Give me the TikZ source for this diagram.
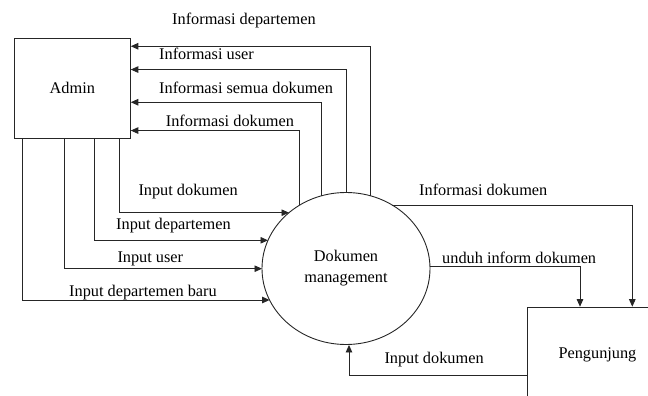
\documentclass[tikz,border=0pt]{standalone}
\usepackage{fontspec}
\setmainfont{Liberation Serif}
\usetikzlibrary{shapes.geometric,arrows.meta}
\begin{document}
\begin{tikzpicture}[x=1pt,y=-1pt,
  line/.style={draw=black!85,line width=0.9pt},
  arr/.style={line,-{Triangle[length=7.5pt,width=6.5pt]}},
  lbl/.style={anchor=base west,inner sep=0pt,font=\fontsize{16.3}{19}\selectfont},
  box/.style={line,rectangle,inner sep=0pt,font=\fontsize{16.3}{19}\selectfont}]
\useasboundingbox (0,0) rectangle (648,396);
% nodes
\node[box,minimum width=116pt,minimum height=100pt] (admin) at (72.3,88) {Admin};
\node[line,ellipse,minimum width=168pt,minimum height=152pt,inner sep=0pt,
      align=center,font=\fontsize{16.3}{21}\selectfont] (dm) at (346,268.5) {Dokumen\\management};
\begin{scope}
  \clip (0,0) rectangle (648,396);
  \node[box,anchor=north west,minimum width=200pt,minimum height=150pt] (peng) at (527.3,306.7) {};
\end{scope}
\node[lbl] (penglbl) at (558.3,358.5) {Pengunjung};
% boundary points on the ellipse
\coordinate (o1) at (370,195.7);
\coordinate (o2) at (346.7,192.6);
\coordinate (o3) at (321.7,195.7);
\coordinate (o4) at (299.3,205.3);
\coordinate (i1) at (289,212.7);
\coordinate (i2) at (268,240.3);
\coordinate (i3) at (262,268.7);
\coordinate (i4) at (269.6,300);
\coordinate (r1) at (392,205);
\coordinate (r2) at (430,266);
% outputs to Admin
\draw[arr] (o1) |- ([yshift=-8.7pt]admin.north east);
\draw[arr] (o2) |- ([yshift=-32pt]admin.north east);
\draw[arr] (o3) |- ([yshift=-64.7pt]admin.north east);
\draw[arr] (o4) |- ([yshift=-93pt]admin.north east);
% inputs from Admin
\draw[arr] ([xshift=106pt]admin.south west) |- (i1);
\draw[arr] ([xshift=80.3pt]admin.south west) |- (i2);
\draw[arr] ([xshift=51pt]admin.south west) |- (i3);
\draw[arr] ([xshift=8.7pt]admin.south west) |- (i4);
% to/from Pengunjung
\draw[arr] (r1) -| ([xshift=105pt]peng.north west);
\draw[arr] (r2) -| ([xshift=52.7pt]peng.north west);
\draw[arr] ([yshift=-68.3pt]peng.north west) -| ([xshift=3pt]dm.south);
% labels
\node[lbl] (l1) at (172,25) {Informasi departemen};
\node[lbl] (l2) at (159,59.3) {Informasi user};
\node[lbl] (l3) at (159,93.3) {Informasi semua dokumen};
\node[lbl] (l4) at (165.7,126.7) {Informasi dokumen};
\node[lbl] (l5) at (138.3,195) {Input dokumen};
\node[lbl] (l6) at (116,229) {Input departemen};
\node[lbl] (l7) at (117.3,262.7) {Input user};
\node[lbl] (l8) at (69,296.7) {Input departemen baru};
\node[lbl] (l9) at (419,195) {Informasi dokumen};
\node[lbl] (l10) at (442,263.3) {unduh inform dokumen};
\node[lbl] (l11) at (384.3,363.3) {Input dokumen};
\end{tikzpicture}
\end{document}
